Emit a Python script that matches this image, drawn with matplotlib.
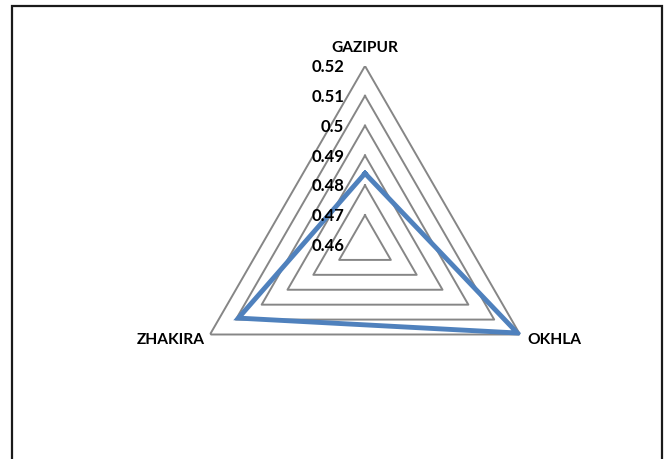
import numpy as np
import matplotlib
matplotlib.use("Agg")
import matplotlib.pyplot as plt
from matplotlib.patches import Rectangle

sites = ["GAZIPUR", "OKHLA", "ZHAKIRA"]
values = [0.484, 0.519, 0.509]
ring_levels = [0.47, 0.48, 0.49, 0.50, 0.51, 0.52]
tick_labels = ["0.46", "0.47", "0.48", "0.49", "0.5", "0.51", "0.52"]
tick_values = [0.46, 0.47, 0.48, 0.49, 0.50, 0.51, 0.52]

W, H = 666, 460
fig = plt.figure(figsize=(W / 100, H / 100), dpi=100)
plt.rcParams['font.family'] = ['Lato', 'DejaVu Sans']

# outer chart border (bottom runs off the image)
fig.patches.append(Rectangle((12 / W, -0.05), (662 - 12) / W, 1.05 - 7 / H,
                             transform=fig.transFigure, fill=False,
                             edgecolor='#1a1a1a', lw=1.6))

cx, cy, R = 365, 246, 179
ax = fig.add_axes([(cx - R) / W, (H - cy - R) / H, 2 * R / W, 2 * R / H],
                  projection='polar')
ax.set_theta_offset(np.pi / 2)
ax.set_theta_direction(-1)
ax.set_ylim(0.46, 0.52)
ax.grid(False)
ax.spines['polar'].set_visible(False)
ax.set_xticks([])
ax.set_yticks([])
ax.patch.set_alpha(0)

angles = np.linspace(0, 2 * np.pi, len(sites), endpoint=False)
closed = np.append(angles, angles[0])

for lev in ring_levels:
    ax.plot(closed, [lev] * len(closed), color='#868686', lw=1.4, zorder=1)

ax.plot(closed, values + values[:1], color='#4F81BD', lw=3.5,
        solid_joinstyle='miter', zorder=3)

for v, lab in zip(tick_values, tick_labels):
    ax.annotate(lab, (0, v), xytext=(-15, 0), textcoords='offset points',
                ha='right', va='center', fontsize=12, fontweight='bold')

offsets = [((0, 9), 'center', 'bottom'),
           ((5, -3), 'left', 'center'),
           ((-4, -3), 'right', 'center')]
for a, name, (off, ha, va) in zip(angles, sites, offsets):
    ax.annotate(name, (a, 0.52), xytext=off, textcoords='offset points',
                ha=ha, va=va, fontsize=11.2, fontweight='bold')

fig.savefig("out.png", dpi=100)
